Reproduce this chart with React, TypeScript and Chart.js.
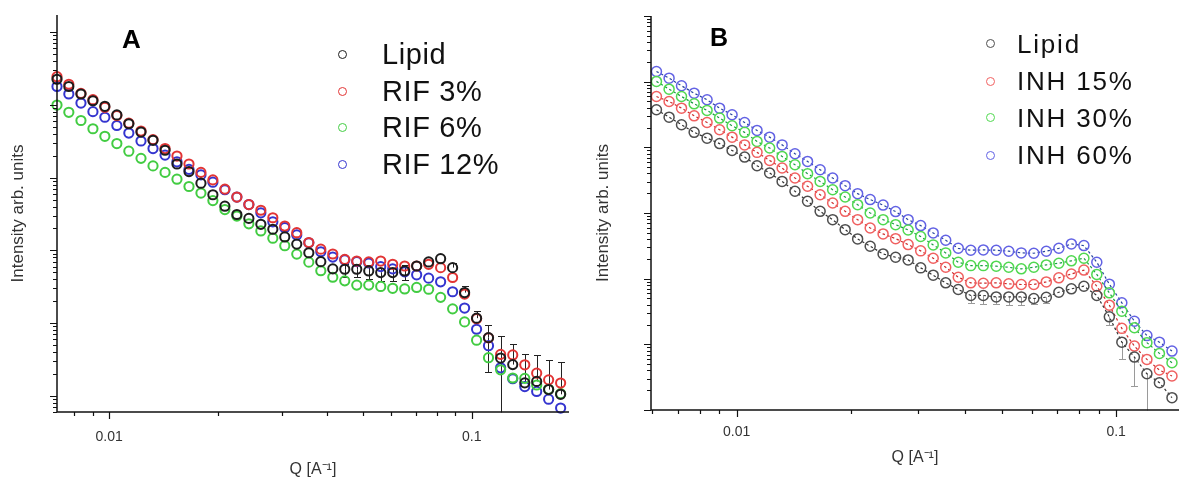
import React, { useEffect, useRef } from "react";
import { Chart, registerables } from "chart.js";

Chart.register(...registerables);

const FONT = '"Liberation Sans", Arial, Helvetica, sans-serif';

// ---------- Panel A data ----------
const qA = [0.00718, 0.00774, 0.00836, 0.00902, 0.00973, 0.0105, 0.01133, 0.01224, 0.01321, 0.01426, 0.01538, 0.0166, 0.01791, 0.01932, 0.02085, 0.0225, 0.02428, 0.0262, 0.02827, 0.0305, 0.03291, 0.03553, 0.03834, 0.04137, 0.04464, 0.04817, 0.05198, 0.05609, 0.06052, 0.06531, 0.07047, 0.07604, 0.08205, 0.08854, 0.09554, 0.1031, 0.1112, 0.1201, 0.1297, 0.14, 0.151, 0.1629, 0.1758];
const lipidA = [22500, 17900, 14100, 11400, 9550, 7280, 5500, 4230, 3260, 2380, 1540, 1210, 839, 582, 405, 311, 275, 228, 195, 153, 122, 92.7, 70.0, 55.6, 55.0, 55.0, 52.1, 49.5, 49.5, 52.1, 61.0, 69.3, 76.9, 57.9, 26.3, 11.7, 6.31, 3.31, 2.69, 1.51, 1.58, 1.22, 1.05];
const lipidAErrHigh = [null, null, null, null, null, null, null, null, null, null, null, null, null, null, null, null, null, null, null, null, null, null, null, null, 65, 65, 62, 58, 58, 62, null, null, null, 67.8, 31.9, 14.9, 9.5, 6.67, 5.15, 3.72, 3.65, 3.12, 2.89];
const lipidAErrLow = [null, null, null, null, null, null, null, null, null, null, null, null, null, null, null, null, null, null, null, null, null, null, null, null, 42.4, 42.4, 40.2, 38.1, 38.1, 38.7, null, null, null, null, null, null, 2.16, 0.3, null, null, null, null, null];
const rif3A = [24400, 19200, 14400, 11800, 9250, 7130, 5610, 4370, 3330, 2510, 1980, 1540, 1180, 931, 695, 541, 426, 356, 281, 216, 175, 128, 104, 89.1, 75.2, 71.3, 69.3, 71.3, 64.3, 61.0, 61.0, 64.3, 57.9, 42.4, 25.1, 11.5, 6.27, 3.72, 3.65, 2.67, 2.05, 1.66, 1.5];
const rif6A = [9950, 7910, 6100, 4700, 3700, 2940, 2310, 1840, 1450, 1180, 951, 755, 614, 483, 364, 296, 232, 185, 147, 116, 88.9, 68.9, 52.5, 42.7, 38.1, 33.3, 33.3, 31.9, 30.1, 29.5, 30.9, 29.2, 22.6, 15.7, 10.4, 5.82, 3.35, 2.28, 1.76, 1.74, 1.41, 1.23, 1.07];
const rif12A = [17900, 14100, 10600, 8070, 6760, 5210, 4100, 3190, 2510, 2040, 1650, 1300, 1090, 865, 681, 541, 426, 328, 247, 205, 163, 127, 95.7, 80.9, 73.8, 70.0, 67.1, 59.8, 55.6, 50.6, 46.1, 41.5, 37.0, 27.0, 16.1, 8.24, 4.89, 2.43, 1.72, 1.34, 1.15, 0.9, 0.68];
const labelsA = ["Lipid", "RIF 3%", "RIF 6%", "RIF 12%"];

// ---------- Panel B data ----------
const qB = [0.00615, 0.00664, 0.00716, 0.00773, 0.00836, 0.00902, 0.00973, 0.0105, 0.01132, 0.01222, 0.01318, 0.01425, 0.01538, 0.0166, 0.01791, 0.01932, 0.02084, 0.02249, 0.02432, 0.02624, 0.02831, 0.03055, 0.03296, 0.03556, 0.03837, 0.0414, 0.04467, 0.04831, 0.05212, 0.05623, 0.06067, 0.06546, 0.07063, 0.07621, 0.08222, 0.08892, 0.09594, 0.1035, 0.1117, 0.1205, 0.13, 0.1403];
const lipidB = [37300, 28800, 22100, 16900, 13800, 11400, 8970, 7110, 5250, 4060, 3030, 2140, 1510, 1060, 792, 558, 403, 312, 238, 212, 193, 146, 113, 86.3, 68.4, 55.5, 55.5, 52.8, 52.8, 52.8, 49.9, 52.2, 62.2, 70.0, 76.7, 55.5, 26.2, 10.8, 6.4, 3.56, 2.61, 1.54];
const lipidBErrLow = [null, null, null, null, null, null, null, null, null, null, null, null, null, null, null, null, null, null, null, null, null, null, null, null, null, 42, 41, 41, 40, 40, 41, 42, null, null, null, null, 19.9, 6.04, 2.32, 0.5, null, null];
const inh15B = [59400, 49900, 39500, 30200, 23900, 18500, 14300, 10900, 8380, 6320, 4840, 3410, 2550, 1900, 1420, 1060, 792, 592, 480, 407, 330, 265, 205, 149, 105, 86.3, 85.3, 86.3, 83.4, 81.5, 81.5, 89.3, 103, 118, 135, 76.7, 39.5, 17.5, 9.4, 5.89, 4.06, 3.29];
const inh30B = [101000, 76900, 59400, 46000, 36500, 27900, 21300, 16900, 12300, 9750, 7280, 5430, 3970, 3030, 2260, 1750, 1340, 1000, 792, 665, 552, 438, 327, 247, 178, 158, 158, 155, 149, 141, 149, 162, 172, 187, 205, 116, 60.8, 32.0, 17.9, 10.6, 7.28, 5.25];
const inh60B = [143000, 113000, 86500, 66800, 53000, 39500, 31300, 23900, 18100, 14300, 10900, 8000, 6110, 4560, 3410, 2610, 1970, 1600, 1320, 1050, 792, 643, 497, 385, 290, 271, 274, 271, 262, 247, 244, 262, 290, 338, 319, 178, 82.4, 42.9, 22.5, 13.6, 10.8, 7.89];
const labelsB = ["Lipid", "INH 15%", "INH 30%", "INH 60%"];

// ---------- axes ----------
const xTickValues = [0.01, 0.1];
const xTickLabels = ["0.01", "0.1"];
const xTitle = "Q [A\u207B\u00B9]";
const yTitle = "Intensity arb. units";

const colorsA = ["#1c1c1c", "#e23434", "#42cc42", "#3434cf"];
const colorsB = ["#4e4e4e", "#f06060", "#50d850", "#6262e4"];
const lineColorsB = ["#333333", "#cc2a2a", "#1a9e44", "#27459e"];

const logTicks = (min: number, max: number) => {
  const out: { v: number; major: boolean }[] = [];
  for (let e = Math.floor(Math.log10(min)) - 1; e <= Math.ceil(Math.log10(max)); e++) {
    for (let k = 1; k <= 9; k++) {
      const v = k * Math.pow(10, e);
      if (v >= min * 0.9999 && v <= max * 1.0001) out.push({ v, major: k === 1 });
    }
  }
  return out;
};

const axesPlugin = {
  id: "logAxes",
  beforeDatasetsDraw(chart: any) {
    const { ctx, chartArea: ca } = chart;
    const xs = chart.scales.x;
    const ys = chart.scales.y;
    chart.data.datasets.forEach((ds: any) => {
      if (!ds.errLow && !ds.errHigh) return;
      ctx.save();
      ctx.strokeStyle = ds.errColor || "#000";
      ctx.lineWidth = 1;
      ds.data.forEach((p: any, i: number) => {
        const x = Math.round(xs.getPixelForValue(p.x)) + 0.5;
        const y = ys.getPixelForValue(p.y);
        [ds.errHigh ? ds.errHigh[i] : null, ds.errLow ? ds.errLow[i] : null].forEach((v: any) => {
          if (v == null) return;
          let ye = ys.getPixelForValue(v);
          let cap = true;
          if (ye > ca.bottom) { ye = ca.bottom; cap = false; }
          if (ye < ca.top) { ye = ca.top; cap = false; }
          ye = Math.round(ye) + 0.5;
          ctx.beginPath();
          ctx.moveTo(x, y);
          ctx.lineTo(x, ye);
          if (cap) { ctx.moveTo(x - 3.5, ye); ctx.lineTo(x + 3.5, ye); }
          ctx.stroke();
        });
      });
      ctx.restore();
    });
  },
  afterDraw(chart: any, _args: any, opts: any) {
    const { ctx, chartArea: ca } = chart;
    const xs = chart.scales.x;
    const ys = chart.scales.y;
    ctx.save();
    ctx.strokeStyle = opts.color || "#111";
    ctx.lineWidth = 1.5;
    ctx.beginPath();
    ctx.moveTo(ca.left, ca.top);
    ctx.lineTo(ca.left, ca.bottom);
    ctx.lineTo(ca.right, ca.bottom);
    ctx.stroke();
    ctx.lineWidth = 1.2;
    ctx.beginPath();
    logTicks(ys.min, ys.max).forEach((t) => {
      const y = Math.round(ys.getPixelForValue(t.v)) + 0.5;
      const len = t.major ? opts.major : opts.minor;
      ctx.moveTo(ca.left, y);
      ctx.lineTo(ca.left - len, y);
    });
    logTicks(xs.min, xs.max).forEach((t) => {
      const x = Math.round(xs.getPixelForValue(t.v)) + 0.5;
      const len = t.major ? opts.major : opts.minor;
      ctx.moveTo(x, ca.bottom);
      ctx.lineTo(x, ca.bottom + len);
    });
    ctx.stroke();
    ctx.restore();
  },
};

type PanelSpec = {
  q: number[];
  series: number[][];
  labels: string[];
  colors: string[];
  lineColors?: string[];
  errLow?: (number | null)[][];
  errHigh?: (number | null)[][];
  errColor: string;
  radius: number;
  border: number;
  xMin: number; xMax: number; yMin: number; yMax: number;
  width: number;
  padTop: number; padRight: number;
  yAxisWidth: number; xAxisHeight: number;
  tickPad: number; xTitlePad: number; yTitlePad: number;
  yTitleSize: number;
};

function buildConfig(p: PanelSpec): any {
  const datasets = p.series.map((vals, si) => ({
    label: p.labels[si],
    data: p.q.map((x, i) => ({ x, y: vals[i] })),
    showLine: !!p.lineColors,
    borderColor: p.lineColors ? p.lineColors[si] : p.colors[si],
    borderWidth: 1.2,
    borderDash: [2.5, 2.5],
    pointStyle: "circle",
    pointRadius: p.radius,
    pointBorderWidth: p.border,
    pointBorderColor: p.colors[si],
    pointBackgroundColor: "rgba(0,0,0,0)",
    clip: false,
    errLow: p.errLow ? p.errLow[si] : undefined,
    errHigh: p.errHigh ? p.errHigh[si] : undefined,
    errColor: p.errColor,
  }));
  return {
    type: "scatter",
    data: { datasets },
    plugins: [axesPlugin],
    options: {
      animation: false,
      responsive: false,
      maintainAspectRatio: false,
      events: [],
      layout: { autoPadding: false, padding: { top: p.padTop, right: p.padRight, bottom: 0, left: 0 } },
      plugins: {
        legend: { display: false },
        tooltip: { enabled: false },
        logAxes: { color: "#111", major: 7, minor: 4 },
      },
      scales: {
        x: {
          type: "logarithmic",
          min: p.xMin,
          max: p.xMax,
          grid: { display: false, drawTicks: false },
          border: { display: false },
          afterBuildTicks: (s: any) => { s.ticks = xTickValues.map((v) => ({ value: v })); },
          afterFit: (s: any) => { s.height = p.xAxisHeight; },
          ticks: {
            autoSkip: false,
            maxRotation: 0,
            padding: p.tickPad,
            color: "#333",
            font: { family: FONT, size: 14 },
            callback: (_v: any, i: number) => xTickLabels[i],
          },
          title: {
            display: true,
            text: xTitle,
            color: "#333",
            font: { family: FONT, size: 16 },
            padding: { top: 0, bottom: p.xTitlePad },
          },
        },
        y: {
          type: "logarithmic",
          min: p.yMin,
          max: p.yMax,
          grid: { display: false, drawTicks: false },
          border: { display: false },
          ticks: { display: false },
          afterFit: (s: any) => { s.width = p.yAxisWidth; },
          title: {
            display: true,
            text: yTitle,
            color: "#333",
            font: { family: FONT, size: p.yTitleSize },
            padding: { top: p.yTitlePad, bottom: 0 },
          },
        },
      },
    },
  };
}

const panelA: PanelSpec = {
  q: qA,
  series: [lipidA, rif3A, rif6A, rif12A],
  labels: labelsA,
  colors: colorsA,
  errLow: [lipidAErrLow, [], [], []],
  errHigh: [lipidAErrHigh, [], [], []],
  errColor: "#222",
  radius: 4.6,
  border: 2,
  xMin: 0.00718, xMax: 0.1854, yMin: 0.625, yMax: 172000,
  width: 590,
  padTop: 15, padRight: 21,
  yAxisWidth: 57, xAxisHeight: 70,
  tickPad: 17, xTitlePad: 3, yTitlePad: 8,
  yTitleSize: 17,
};

const panelB: PanelSpec = {
  q: qB,
  series: [lipidB, inh15B, inh30B, inh60B],
  labels: labelsB,
  colors: colorsB,
  lineColors: lineColorsB,
  errLow: [lipidBErrLow, [], [], []],
  errColor: "#9a9a9a",
  radius: 5,
  border: 1.5,
  xMin: 0.00595, xMax: 0.1464, yMin: 1, yMax: 1000000,
  width: 589,
  padTop: 16, padRight: 0,
  yAxisWidth: 61, xAxisHeight: 72,
  tickPad: 14, xTitlePad: 15, yTitlePad: 3,
  yTitleSize: 17,
};

function ChartPanel({ spec, left }: { spec: PanelSpec; left: number }) {
  const ref = useRef<HTMLCanvasElement>(null);
  useEffect(() => {
    const chart = new Chart(ref.current as HTMLCanvasElement, buildConfig(spec));
    return () => chart.destroy();
  }, []);
  return (
    <canvas
      ref={ref}
      width={spec.width}
      height={482}
      style={{ position: "absolute", left, top: 0, width: spec.width, height: 482 }}
    />
  );
}

function Legend({ labels, colors, markerX, textX, rows, fontSize, letterSpacing }: any) {
  const r = 4.5;
  return (
    <>
      {labels.map((lab: string, i: number) => (
        <React.Fragment key={lab + i}>
          <div
            style={{
              position: "absolute",
              left: markerX - r,
              top: rows[i] - r,
              width: r * 2,
              height: r * 2,
              boxSizing: "border-box",
              border: `1.5px solid ${colors[i]}`,
              borderRadius: "50%",
            }}
          />
          <div
            style={{
              position: "absolute",
              left: textX,
              top: rows[i] - fontSize / 2,
              fontSize,
              lineHeight: `${fontSize}px`,
              letterSpacing,
              whiteSpace: "nowrap",
              color: "#111",
            }}
          >
            {lab}
          </div>
        </React.Fragment>
      ))}
    </>
  );
}

export default function App() {
  useEffect(() => {
    document.body.style.margin = "0";
  }, []);
  return (
    <div
      style={{
        position: "fixed",
        left: 0,
        top: 0,
        width: 1179,
        height: 482,
        background: "#fff",
        overflow: "hidden",
        fontFamily: FONT,
      }}
    >
      <ChartPanel spec={panelA} left={0} />
      <ChartPanel spec={panelB} left={590} />
      <div style={{ position: "absolute", left: 122, top: 39 - 13, fontSize: 26, lineHeight: "26px", fontWeight: "bold", color: "#000" }}>A</div>
      <div style={{ position: "absolute", left: 710, top: 37 - 12.5, fontSize: 25, lineHeight: "25px", fontWeight: "bold", color: "#000" }}>B</div>
      <Legend labels={labelsA} colors={colorsA} markerX={342} textX={382} rows={[54, 91, 127.5, 164]} fontSize={29} letterSpacing="0.6px" />
      <Legend labels={labelsB} colors={colorsB} markerX={990} textX={1017} rows={[43.5, 81, 117.5, 155]} fontSize={26} letterSpacing="1.8px" />
    </div>
  );
}
